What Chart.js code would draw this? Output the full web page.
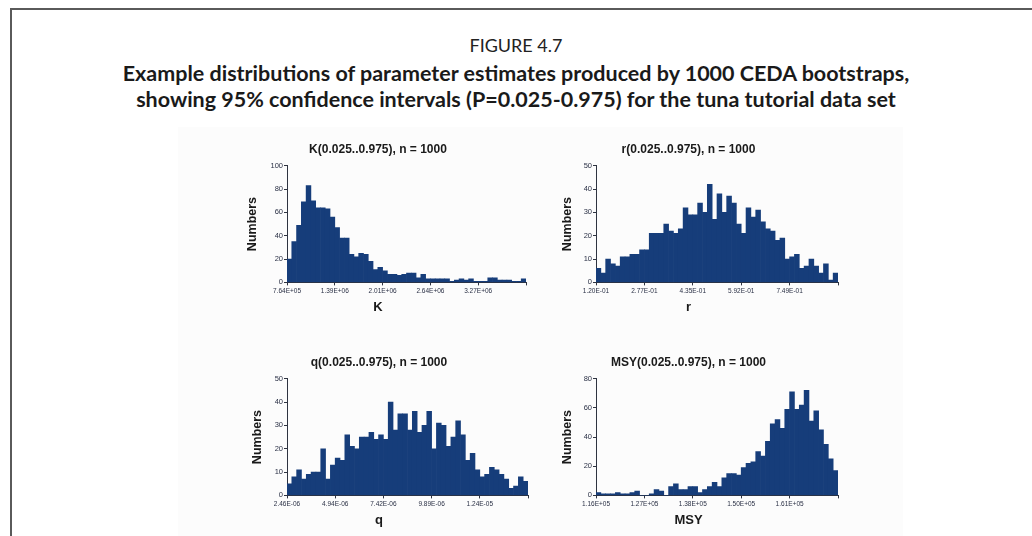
<!DOCTYPE html>
<html>
<head>
<meta charset="utf-8">
<script src="https://cdn.jsdelivr.net/npm/chart.js"></script>
<style>
  html, body { margin: 0; padding: 0; background: #fff; }
  body { width: 1032px; height: 536px; position: relative; overflow: hidden; font-family: Lato, "Liberation Sans", sans-serif; }
  .frame { position: absolute; left: 10px; top: 8px; width: 1040px; height: 560px; border-left: 2px solid #5a5a5a; border-top: 2px solid #5a5a5a; }
  .figno { position: absolute; left: 0; width: 1032px; top: 34px; text-align: center; font-size: 18px; color: #222; }
  .caption { position: absolute; left: 0; width: 1032px; top: 60px; text-align: center; font-size: 21.5px; font-weight: bold; line-height: 26px; color: #1a1a1a; }
  .plate { position: absolute; left: 178px; top: 127px; width: 725px; height: 420px; background: #fcfcfc; }
  canvas { position: absolute; }
</style>
</head>
<body>
<div class="frame"></div>
<div class="figno">FIGURE 4.7</div>
<div class="caption">Example distributions of parameter estimates produced by 1000 CEDA bootstraps,<br>showing 95% confidence intervals (P=0.025-0.975) for the tuna tutorial data set</div>
<div class="plate"></div>
<canvas id="kChart" width="310" height="182" style="left:230px;top:138px"></canvas>
<canvas id="rChart" width="316" height="182" style="left:539px;top:138px"></canvas>
<canvas id="qChart" width="314" height="182" style="left:230px;top:351px"></canvas>
<canvas id="msyChart" width="316" height="182" style="left:539px;top:351px"></canvas>
<script>
// Conteos por clase (50 clases en cada histograma)
const kCounts = [20,35,49,69,83,70,64,64,63,56,47,38,38,24,22,25,24,18,11,13,10,7,7,6,7,8,8,4,7,3,3,3,3,3,1,2,3,2,3,1,1,1,4,4,2,2,2,1,1,3];
const rCounts = [6,4,10,8,7,11,11,12,12,14,14,21,21,21,25,22,21,23,32,29,29,34,30,42,27,38,30,37,34,25,21,32,28,31,26,23,22,18,19,10,11,12,6,7,10,7,4,8,1,4];
const qCounts = [5,8,11,7,9,10,10,20,7,13,16,15,26,21,20,25,25,27,24,26,24,40,28,35,35,28,36,27,30,36,20,31,30,21,25,32,26,15,18,11,8,9,12,11,9,7,3,4,8,6];
const msyCounts = [2,1,1,1,2,1,1,2,3,0,0,1,4,3,0,6,8,4,4,6,6,2,4,6,9,6,12,15,15,14,19,22,23,30,27,37,49,52,46,59,71,59,62,72,51,58,45,35,25,17];

// Etiquetas del eje x (una cada 10 clases)
const kTicks = ['7.64E+05','1.39E+06','2.01E+06','2.64E+06','3.27E+06'];
const rTicks = ['1.20E-01','2.77E-01','4.35E-01','5.92E-01','7.49E-01'];
const qTicks = ['2.46E-06','4.94E-06','7.42E-06','9.89E-06','1.24E-05'];
const msyTicks = ['1.16E+05','1.27E+05','1.38E+05','1.50E+05','1.61E+05'];

// Escala y de cada panel
const kYMax = 100, kYStep = 20;
const rYMax = 50, rYStep = 10;
const qYMax = 50, qYStep = 10;
const msyYMax = 80, msyYStep = 20;

const barColor = '#163d7a';
const axisColor = '#2e3340';
const labelFont = 'Liberation Sans, Arial, sans-serif';

function makeHistogram(id, name, counts, ticks, yMax, yStep, rightPad, yTitlePad) {
  const ctx = document.getElementById(id);
  new Chart(ctx, {
    type: 'bar',
    data: {
      datasets: [{
        data: counts.map((c, i) => ({ x: i + 0.5, y: c })),
        backgroundColor: barColor,
        borderWidth: 0,
        barPercentage: 1,
        categoryPercentage: 1
      }]
    },
    options: {
      responsive: false,
      animation: false,
      devicePixelRatio: 1,
      layout: { padding: { left: 0, right: rightPad, top: 0, bottom: 0 } },
      plugins: {
        legend: { display: false },
        tooltip: { enabled: false },
        title: {
          display: true,
          text: name + '(0.025..0.975), n = 1000',
          color: '#1a1a1a',
          font: { family: labelFont, size: 12, weight: 'bold' },
          padding: { top: 4, bottom: 9.3 }
        },
        subtitle: {
          display: true,
          position: 'bottom',
          text: name,
          color: '#1a1a1a',
          font: { family: labelFont, size: 13, weight: 'bold' },
          padding: { top: 0, bottom: 5 }
        }
      },
      scales: {
        x: {
          type: 'linear',
          min: 0,
          max: counts.length,
          offset: false,
          afterFit: s => { s.height = 17; },
          grid: { display: true, drawOnChartArea: false, offset: false, color: axisColor, tickLength: 3 },
          border: { display: true, color: axisColor, width: 1 },
          ticks: {
            stepSize: 10,
            autoSkip: false,
            maxRotation: 0,
            padding: 2,
            color: '#2a3045',
            font: { family: labelFont, size: 6.5 },
            callback: v => ticks[v / 10] || ''
          }
        },
        y: {
          min: 0,
          max: yMax,
          afterFit: s => { s.width = 57; },
          grid: { display: true, drawOnChartArea: false, color: axisColor, tickLength: 3 },
          border: { display: true, color: axisColor, width: 1 },
          ticks: {
            stepSize: yStep,
            padding: 1,
            color: '#2a3045',
            font: { family: labelFont, size: 7.5 }
          },
          title: {
            display: true,
            text: 'Numbers',
            color: '#1a1a1a',
            font: { family: labelFont, size: 12.5, weight: 'bold' },
            padding: { top: yTitlePad, bottom: 0 }
          }
        }
      }
    }
  });
}

makeHistogram('kChart', 'K', kCounts, kTicks, kYMax, kYStep, 14, 15.5);
makeHistogram('rChart', 'r', rCounts, rTicks, rYMax, rYStep, 17, 21.5);
makeHistogram('qChart', 'q', qCounts, qTicks, qYMax, qYStep, 16, 20.5);
makeHistogram('msyChart', 'MSY', msyCounts, msyTicks, msyYMax, msyYStep, 17, 21.5);
</script>
</body>
</html>
